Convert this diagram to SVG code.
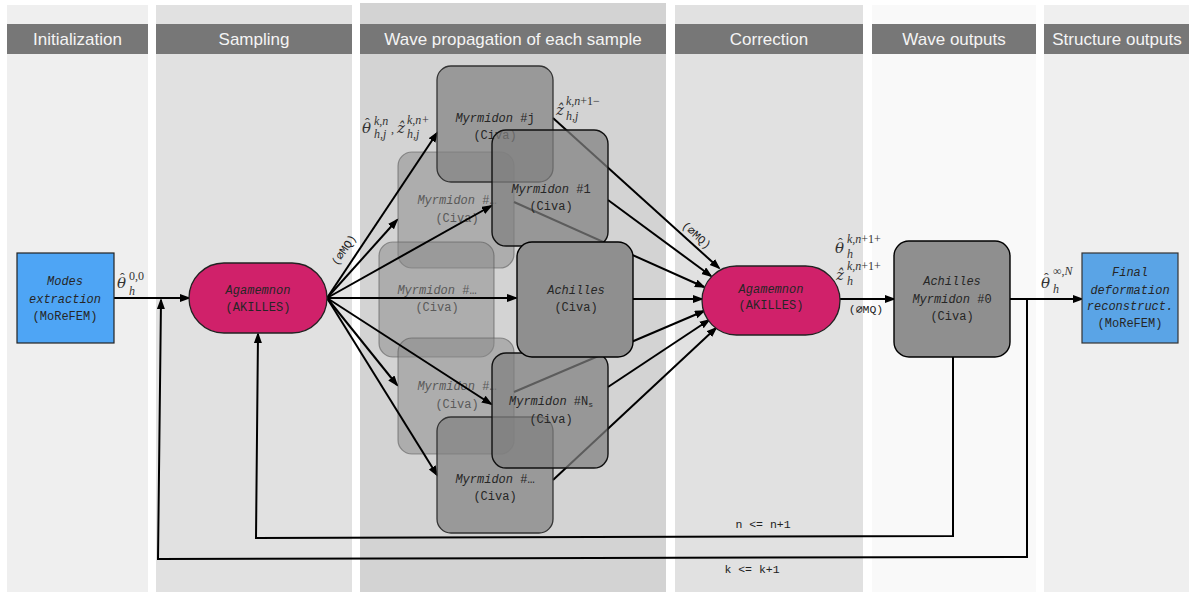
<svg xmlns="http://www.w3.org/2000/svg" width="1189" height="592" viewBox="0 0 1189 592">
<style>
.hdr{fill:#777777}
.ht{font-family:"Liberation Sans",Arial,sans-serif;font-size:17px;fill:#f4f4f4;text-anchor:middle}
.t{font-family:"Liberation Mono","DejaVu Sans Mono",monospace;font-size:12px;fill:#262626;text-anchor:middle}
.it{font-style:italic}
.faint .t{fill:#5a5a5a}
.m{font-family:"DejaVu Serif",serif;font-style:italic;font-size:15px;fill:#333}
.h{font-family:"Liberation Serif",serif;font-style:normal;font-size:14px}
.s{font-family:"Liberation Serif","DejaVu Serif",serif;font-size:12px;font-style:normal}
.si{font-family:"Liberation Serif","DejaVu Serif",serif;font-size:12px;font-style:italic}
.ln{fill:none;stroke:#000;stroke-width:2}
.lbl{font-family:"Liberation Mono","DejaVu Sans Mono",monospace;font-size:11.5px;fill:#222;text-anchor:middle}
.fb{fill:#888;fill-opacity:.5;stroke:#555;stroke-opacity:.55;stroke-width:1.2}
.mb{fill:#808080;fill-opacity:.7;stroke:#333;stroke-width:1.3}
.sb{fill:#808080;fill-opacity:.72;stroke:#111;stroke-width:1.4}
</style>
<defs>
<marker id="ah" markerWidth="12" markerHeight="10" refX="9" refY="4" orient="auto" markerUnits="userSpaceOnUse"><path d="M0,0 L11,4 L0,8 z" fill="#000"/></marker>
</defs>
<g id="columns">
<rect x="7" y="5" width="141" height="587" fill="#efefef"/>
<rect x="156" y="5" width="196" height="587" fill="#e1e1e1"/>
<rect x="360" y="3" width="306" height="589" fill="#d3d3d3"/>
<rect x="675" y="5" width="188" height="587" fill="#e1e1e1"/>
<rect x="872" y="5" width="164" height="587" fill="#f9f9f9"/>
<rect x="1044" y="5" width="145" height="587" fill="#efefef"/>
<rect class="hdr" x="7" y="24" width="141" height="30"/>
<rect class="hdr" x="156" y="24" width="196" height="30"/>
<rect class="hdr" x="360" y="24" width="306" height="30"/>
<rect class="hdr" x="675" y="24" width="188" height="30"/>
<rect class="hdr" x="872" y="24" width="164" height="30"/>
<rect class="hdr" x="1044" y="24" width="145" height="30"/>
<text class="ht" x="77.5" y="45">Initialization</text>
<text class="ht" x="254" y="45">Sampling</text>
<text class="ht" x="513" y="45">Wave propagation of each sample</text>
<text class="ht" x="769" y="45">Correction</text>
<text class="ht" x="954" y="45">Wave outputs</text>
<text class="ht" x="1117" y="45">Structure outputs</text>
</g>
<g id="myr_ul" class="faint"><rect class="fb" x="398" y="152" width="116" height="116" rx="14"/><text class="t" x="457" y="204"><tspan class="it">Myrmidon</tspan> #&#x2026;</text><text class="t" x="457" y="222">(Civa)</text></g>
<g id="myr_ml" class="faint"><rect class="fb" x="379" y="242" width="115" height="115" rx="14"/><text class="t" x="437" y="294"><tspan class="it">Myrmidon</tspan> #&#x2026;</text><text class="t" x="437" y="311">(Civa)</text></g>
<g id="myr_ll" class="faint"><rect class="fb" x="398" y="338" width="116" height="116" rx="14"/><text class="t" x="457" y="390"><tspan class="it">Myrmidon</tspan> #&#x2026;</text><text class="t" x="457" y="408">(Civa)</text></g>
<g id="connectors">
<line class="ln" x1="114" y1="298" x2="189" y2="298" marker-end="url(#ah)"/>
<line class="ln" x1="327" y1="298" x2="437" y2="133" marker-end="url(#ah)"/>
<line class="ln" x1="327" y1="298" x2="397" y2="220" marker-end="url(#ah)"/>
<line class="ln" x1="327" y1="298" x2="491" y2="206" marker-end="url(#ah)"/>
<line class="ln" x1="327" y1="298" x2="516" y2="298" marker-end="url(#ah)"/>
<line class="ln" x1="327" y1="298" x2="397" y2="385" marker-end="url(#ah)"/>
<line class="ln" x1="327" y1="298" x2="491" y2="404" marker-end="url(#ah)"/>
<line class="ln" x1="327" y1="298" x2="437" y2="475" marker-end="url(#ah)"/>
<line class="ln" x1="553" y1="118" x2="719" y2="268" marker-end="url(#ah)"/>
<line class="ln" x1="608" y1="200" x2="711" y2="276" marker-end="url(#ah)"/>
<line class="ln" x1="514" y1="202" x2="704" y2="287" marker-end="url(#ah)"/>
<line class="ln" x1="633" y1="299" x2="702" y2="299" marker-end="url(#ah)"/>
<line class="ln" x1="514" y1="392" x2="704" y2="311" marker-end="url(#ah)"/>
<line class="ln" x1="608" y1="387" x2="709" y2="320" marker-end="url(#ah)"/>
<line class="ln" x1="553" y1="480" x2="716" y2="328" marker-end="url(#ah)"/>
<line class="ln" x1="840" y1="299" x2="894" y2="299" marker-end="url(#ah)"/>
<line class="ln" x1="1010" y1="299" x2="1082" y2="299" marker-end="url(#ah)"/>
<polyline class="ln" points="953,357 953,536 256,538 258,334" marker-end="url(#ah)"/>
<polyline class="ln" points="1027,299 1027,557 158,559 161,300" marker-end="url(#ah)"/>
<text class="lbl" transform="translate(347,252) rotate(-56)">(&#x2205;MQ)</text>
<text class="lbl" transform="translate(694,238) rotate(42)">(&#x2205;MQ)</text>
<text class="lbl" x="866" y="313">(&#x2205;MQ)</text>
<text class="lbl" x="763" y="528" font-size="12">n &lt;= n+1</text>
<text class="lbl" x="752" y="573" font-size="12">k &lt;= k+1</text>
<text class="m" x="117" y="288">&#x3B8;<tspan class="h" dx="-6" dy="-5">&#x2C6;</tspan><tspan class="s" x="129" dy="-3">0,0</tspan><tspan class="si" x="129" dy="15">h</tspan></text>
<text class="m" x="362" y="133">&#x3B8;<tspan class="h" dx="-6" dy="-5">&#x2C6;</tspan><tspan class="si" x="374" dy="-3">k,n</tspan><tspan class="si" x="374" dy="13">h,j</tspan><tspan class="s" x="391" dy="-5">,</tspan><tspan x="397" dy="0">&#x1E91;</tspan><tspan class="si" x="407" dy="-9">k,n+</tspan><tspan class="si" x="407" dy="14">h,j</tspan></text>
<text class="m" x="556" y="115">&#x1E91;<tspan class="si" x="566" dy="-10">k,n</tspan><tspan class="s">+1&#x2212;</tspan><tspan class="si" x="566" dy="15">h,j</tspan></text>
<text class="m" x="835" y="253">&#x3B8;<tspan class="h" dx="-6" dy="-5">&#x2C6;</tspan><tspan class="si" x="847" dy="-5">k,n</tspan><tspan class="s">+1+</tspan><tspan class="si" x="847" dy="15">h</tspan></text>
<text class="m" x="836" y="280">&#x1E91;<tspan class="si" x="847" dy="-10">k,n</tspan><tspan class="s">+1+</tspan><tspan class="si" x="847" dy="15">h</tspan></text>
<text class="m" x="1041" y="288">&#x3B8;<tspan class="h" dx="-6" dy="-5">&#x2C6;</tspan><tspan class="s" x="1053" dy="-8">&#x221E;,</tspan><tspan class="si">N</tspan><tspan class="si" x="1053" dy="18">h</tspan></text>
</g>
<g id="modes"><rect x="17" y="253" width="97" height="90" fill="#4ea5f5" stroke="#222" stroke-width="1.2"/><text class="t it" x="65" y="285">Modes</text><text class="t it" x="65" y="303">extraction</text><text class="t" x="65" y="320">(MoReFEM)</text></g>
<g id="agamemnon1"><rect x="189" y="263" width="138" height="70" rx="35" fill="#d0216a" stroke="#222" stroke-width="1.3"/><text class="t it" x="258" y="294">Agamemnon</text><text class="t" x="258" y="311">(AKILLES)</text></g>
<g id="myr_j"><rect class="mb" x="437" y="66" width="116" height="116" rx="14"/><text class="t" x="495" y="122"><tspan class="it">Myrmidon</tspan> #j</text><text class="t" x="495" y="139">(Civa)</text></g>
<g id="myr_b"><rect class="mb" x="437" y="417" width="116" height="116" rx="14"/><text class="t" x="495" y="483"><tspan class="it">Myrmidon</tspan> #&#x2026;</text><text class="t" x="495" y="500">(Civa)</text></g>
<g id="myr_1"><rect class="sb" x="492" y="130" width="116" height="116" rx="14"/><text class="t" x="551" y="193"><tspan class="it">Myrmidon</tspan> #1</text><text class="t" x="551" y="210">(Civa)</text></g>
<g id="myr_ns"><rect class="sb" x="492" y="353" width="116" height="115" rx="14"/><text class="t" x="551" y="405"><tspan class="it">Myrmidon</tspan> #N<tspan font-size="8" dy="2">s</tspan></text><text class="t" x="551" y="423">(Civa)</text></g>
<g id="achilles"><rect x="517" y="242" width="116" height="115" rx="15" fill="#8f8f8f" stroke="#000" stroke-width="1.4"/><text class="t it" x="576" y="294">Achilles</text><text class="t" x="576" y="311">(Civa)</text></g>
<g id="agamemnon2"><rect x="702" y="266" width="138" height="69" rx="34.5" fill="#d0216a" stroke="#222" stroke-width="1.3"/><text class="t it" x="771" y="293">Agamemnon</text><text class="t" x="771" y="309">(AKILLES)</text></g>
<g id="achilles0"><rect x="894" y="241" width="116" height="116" rx="15" fill="#8f8f8f" stroke="#000" stroke-width="1.4"/><text class="t it" x="952" y="285">Achilles</text><text class="t" x="952" y="303"><tspan class="it">Myrmidon</tspan> #0</text><text class="t" x="952" y="320">(Civa)</text></g>
<g id="final"><rect x="1082" y="253" width="96" height="90" fill="#5aa4e6" stroke="#333" stroke-width="1.2"/><text class="t it" x="1130" y="276">Final</text><text class="t it" x="1130" y="294">deformation</text><text class="t it" x="1130" y="310">reconstruct.</text><text class="t" x="1130" y="327">(MoReFEM)</text></g>
</svg>
